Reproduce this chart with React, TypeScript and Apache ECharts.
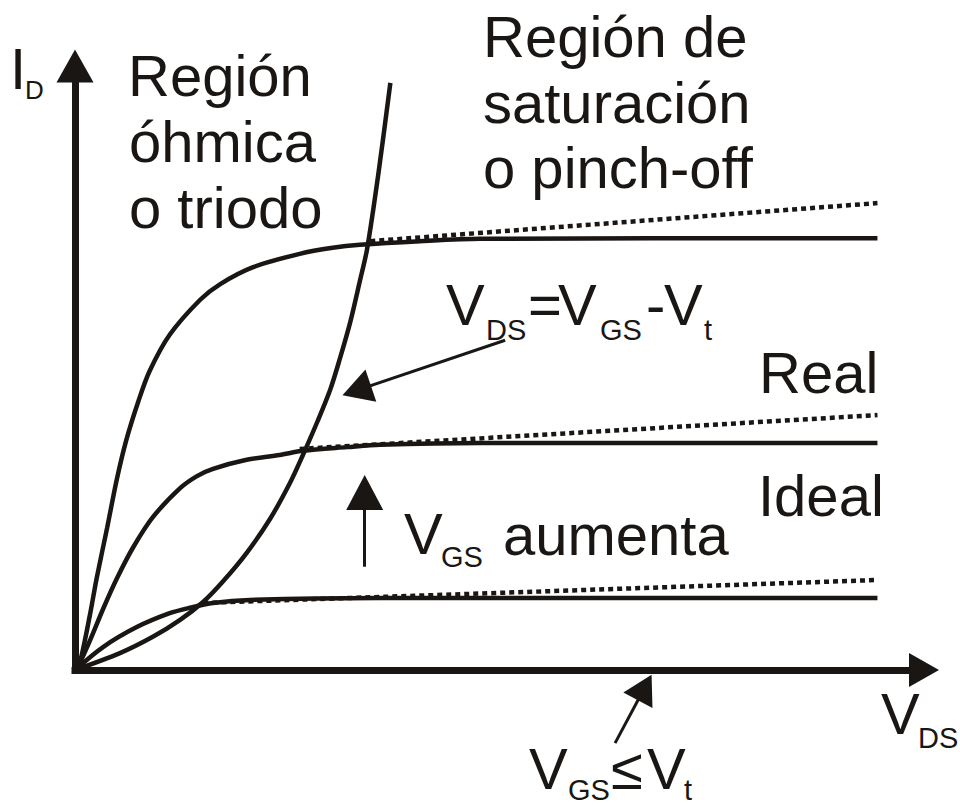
import React, { useEffect, useRef } from "react";
import * as echarts from "echarts";

// Axis extents (arbitrary units: V_DS horizontally, I_D vertically)
const X_MAX = 10.58;
const Y_MAX = 10;

const INK = "#1a1614";
const FONT = '"Liberation Sans", Arial, Helvetica, sans-serif';

// Output characteristics, one per gate voltage (solid = ideal)
const curveHigh: number[][] = [
  [0, 0], [0.06, 0.12], [0.19, 0.94], [0.27, 1.52], [0.4, 2.35], [0.52, 3.15],
  [0.64, 3.81], [0.79, 4.45], [0.93, 4.95], [1.18, 5.55], [1.56, 6.13],
  [1.81, 6.39], [2.22, 6.67], [2.8, 6.89], [3.21, 6.99], [3.55, 7.04],
  [4.3, 7.1], [5.05, 7.14], [10, 7.15],
];
const curveMid: number[][] = [
  [0, 0], [0.06, 0.12], [0.19, 0.5], [0.35, 1.01], [0.52, 1.51], [0.72, 2.02],
  [0.97, 2.53], [1.31, 3.01], [1.52, 3.21], [1.72, 3.33], [2.14, 3.48],
  [2.55, 3.56], [2.84, 3.63], [3.39, 3.69], [3.8, 3.73], [5.05, 3.76], [10, 3.76],
];
const curveLow: number[][] = [
  [0, 0], [0.35, 0.38], [0.77, 0.71], [1.18, 0.94], [1.43, 1.03], [1.72, 1.11],
  [2.18, 1.16], [3.8, 1.19], [10, 1.19],
];

// Real behaviour in saturation (channel-length modulation), dotted
const realHigh: number[][] = [[3.68, 7.1], [10, 7.73]];
const realMid: number[][] = [[2.8, 3.66], [10, 4.22]];
const realLow: number[][] = [[1.6, 1.11], [10, 1.49]];

// Boundary V_DS = V_GS - V_t
const pinchOff: number[][] = [
  [0, 0], [0.56, 0.28], [0.97, 0.55], [1.31, 0.83], [1.6, 1.13], [1.84, 1.46],
  [2.14, 1.94], [2.43, 2.5], [2.68, 3.1], [2.84, 3.56], [3.02, 4.11],
  [3.18, 4.64], [3.3, 5.15], [3.43, 5.76], [3.55, 6.44], [3.64, 6.97],
  [3.78, 8.21], [3.93, 9.72],
];

// Pointer arrows: tail and arrow-head centre, in axis units; head size [w, h] px
const pointerFrom: number[][] = [[5.36, 5.46], [3.61, 1.71], [6.73, -1.21]];
const pointerTo: number[][] = [[3.51, 4.63], [3.61, 2.94], [7.1, -0.29]];
const pointerHead: number[][] = [[34, 30], [37, 35], [33, 29]];

// Text pieces: [text, left x, centre y, font size]
const MAIN = 58;
const SUB = 29;
const textPieces: [string, number, number, number][] = [
  ["I", 10, 68, MAIN], ["D", 25, 90, 26],
  ["Región", 128, 75, MAIN], ["óhmica", 129, 141, MAIN], ["o triodo", 129, 207, MAIN],
  ["Región de", 483, 36, MAIN], ["saturación", 483, 102, MAIN], ["o pinch-off", 483, 167, MAIN],
  ["V", 446, 304, MAIN], ["DS", 486, 330, SUB], ["=", 528, 304, MAIN],
  ["V", 558, 304, MAIN], ["GS", 600, 330, SUB], ["-", 646, 304, MAIN],
  ["V", 664, 304, MAIN], ["t", 704, 330, SUB],
  ["Real", 759, 372, MAIN],
  ["Ideal", 758, 495, MAIN],
  ["V", 404, 533, MAIN], ["GS", 441, 557, SUB], ["aumenta", 503, 534, MAIN],
  ["V", 881, 713, MAIN], ["DS", 918, 738, SUB],
  ["V", 529, 768, MAIN], ["GS", 568, 790, SUB], ["≤", 611, 768, MAIN],
  ["V", 647, 768, MAIN], ["t", 684, 790, SUB],
];

function solid(data: number[][]) {
  return {
    type: "line",
    data,
    showSymbol: false,
    smooth: 0.3,
    silent: true,
    z: 4,
    lineStyle: { color: INK, width: 4.5 },
  };
}

function dotted(data: number[][]) {
  return {
    type: "line",
    data,
    showSymbol: false,
    silent: true,
    z: 3,
    lineStyle: { color: INK, width: 4.5, type: [5, 4] },
  };
}

export default function App() {
  const ref = useRef<HTMLDivElement>(null);

  useEffect(() => {
    if (!ref.current) return;
    const chart = echarts.init(ref.current, undefined, { renderer: "svg" });

    const axisCommon = {
      type: "value",
      min: 0,
      axisTick: { show: false },
      axisLabel: { show: false },
      splitLine: { show: false },
    };

    chart.setOption({
      animation: false,
      backgroundColor: "#ffffff",
      grid: { left: 75, right: 36, top: 66, bottom: 135, outerBoundsMode: "none" },
      xAxis: {
        ...axisCommon,
        max: X_MAX,
        axisLine: {
          show: true,
          onZero: false,
          symbol: ["none", "triangle"],
          symbolSize: [34, 30],
          lineStyle: { color: INK, width: 7, cap: "square" },
        },
      },
      yAxis: {
        ...axisCommon,
        max: Y_MAX,
        axisLine: {
          show: true,
          onZero: false,
          symbol: ["none", "triangle"],
          symbolSize: [37, 33],
          lineStyle: { color: INK, width: 7, cap: "square" },
        },
      },
      series: [
        dotted(realHigh),
        dotted(realMid),
        dotted(realLow),
        solid(curveHigh),
        solid(curveMid),
        solid(curveLow),
        solid(pinchOff),
        {
          type: "lines",
          coordinateSystem: "cartesian2d",
          clip: false,
          silent: true,
          z: 5,
          symbol: ["none", "triangle"],
          lineStyle: { color: INK, width: 3, opacity: 1, curveness: 0 },
          data: pointerFrom.map((from, i) => ({
            coords: [from, pointerTo[i]],
            symbolSize: [0, pointerHead[i]],
          })),
        },
      ],
      graphic: textPieces.map(([text, x, y, size]) => ({
        type: "text",
        x,
        y,
        silent: true,
        z: 10,
        style: {
          text,
          fill: INK,
          font: `${size}px ${FONT}`,
          align: "left",
          verticalAlign: "middle",
          textAlign: "left",
          textVerticalAlign: "middle",
        },
      })),
    });

    return () => chart.dispose();
  }, []);

  return (
    <div
      ref={ref}
      style={{ position: "fixed", left: 0, top: 0, width: 960, height: 805, background: "#fff" }}
    />
  );
}
